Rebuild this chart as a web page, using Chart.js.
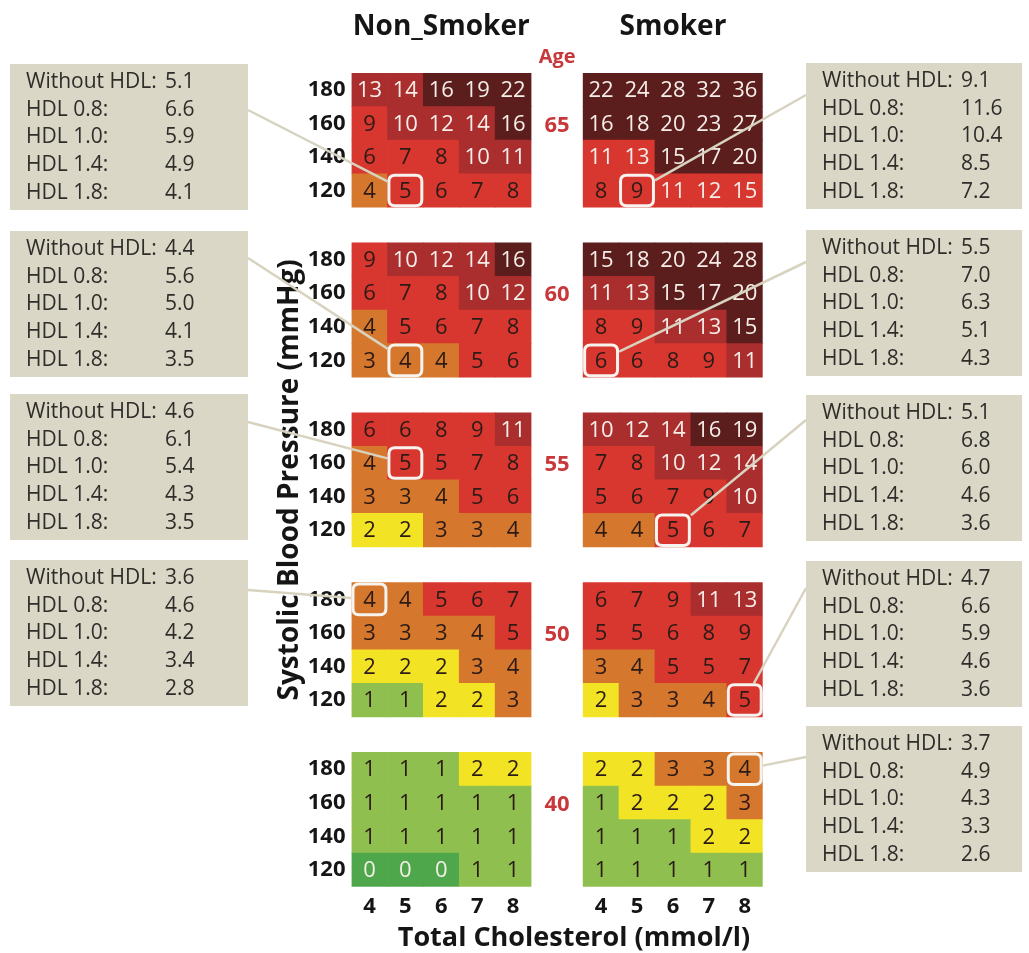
<!DOCTYPE html>
<html>
<head>
<meta charset="utf-8">
<script src="https://cdn.jsdelivr.net/npm/chart.js@4.4.1/dist/chart.umd.min.js"></script>
<style>
  html, body { margin: 0; padding: 0; background: #ffffff; }
  canvas { display: block; }
</style>
</head>
<body>
<canvas id="chart" width="1029" height="953"></canvas>
<script>
// Axis categories
const cholesterolTicks = ['4', '5', '6', '7', '8'];
const pressureTicks = ['180', '160', '140', '120'];
const ageGroups = ['65', '60', '55', '50', '40'];

// 10-year risk (%): rows = SBP 180,160,140,120; columns = total cholesterol 4..8
const nonSmoker65 = [[13, 14, 16, 19, 22], [9, 10, 12, 14, 16], [6, 7, 8, 10, 11], [4, 5, 6, 7, 8]];
const nonSmoker60 = [[9, 10, 12, 14, 16], [6, 7, 8, 10, 12], [4, 5, 6, 7, 8], [3, 4, 4, 5, 6]];
const nonSmoker55 = [[6, 6, 8, 9, 11], [4, 5, 5, 7, 8], [3, 3, 4, 5, 6], [2, 2, 3, 3, 4]];
const nonSmoker50 = [[4, 4, 5, 6, 7], [3, 3, 3, 4, 5], [2, 2, 2, 3, 4], [1, 1, 2, 2, 3]];
const nonSmoker40 = [[1, 1, 1, 2, 2], [1, 1, 1, 1, 1], [1, 1, 1, 1, 1], [0, 0, 0, 1, 1]];

const smoker65 = [[22, 24, 28, 32, 36], [16, 18, 20, 23, 27], [11, 13, 15, 17, 20], [8, 9, 11, 12, 15]];
const smoker60 = [[15, 18, 20, 24, 28], [11, 13, 15, 17, 20], [8, 9, 11, 13, 15], [6, 6, 8, 9, 11]];
const smoker55 = [[10, 12, 14, 16, 19], [7, 8, 10, 12, 14], [5, 6, 7, 9, 10], [4, 4, 5, 6, 7]];
const smoker50 = [[6, 7, 9, 11, 13], [5, 5, 6, 8, 9], [3, 4, 5, 5, 7], [2, 3, 3, 4, 5]];
const smoker40 = [[2, 2, 3, 3, 4], [1, 2, 2, 2, 3], [1, 1, 1, 2, 2], [1, 1, 1, 1, 1]];

// Cells whose shading keeps the original (unadjusted) risk band
const bandOverrides = [
  { panel: 1, age: 0, row: 2, col: 0, band: 4 }, { panel: 1, age: 0, row: 2, col: 1, band: 4 },
  { panel: 1, age: 0, row: 3, col: 2, band: 4 }, { panel: 1, age: 0, row: 3, col: 3, band: 4 },
  { panel: 1, age: 0, row: 3, col: 4, band: 4 }
];

// HDL-adjusted risk for the marked cells
const hdlLabels = ['Without HDL:', 'HDL 0.8:', 'HDL 1.0:', 'HDL 1.4:', 'HDL 1.8:'];
const hdlNonSmoker65 = [5.1, 6.6, 5.9, 4.9, 4.1];
const hdlNonSmoker60 = [4.4, 5.6, 5.0, 4.1, 3.5];
const hdlNonSmoker55 = [4.6, 6.1, 5.4, 4.3, 3.5];
const hdlNonSmoker50 = [3.6, 4.6, 4.2, 3.4, 2.8];
const hdlSmoker65 = [9.1, 11.6, 10.4, 8.5, 7.2];
const hdlSmoker60 = [5.5, 7.0, 6.3, 5.1, 4.3];
const hdlSmoker55 = [5.1, 6.8, 6.0, 4.6, 3.6];
const hdlSmoker50 = [4.7, 6.6, 5.9, 4.6, 3.6];
const hdlSmoker40 = [3.7, 4.9, 4.3, 3.3, 2.6];

// Marked cells (age group index, SBP row index, cholesterol column index)
const nonSmokerMarked = [
  { age: 0, row: 3, col: 1 }, { age: 1, row: 3, col: 1 },
  { age: 2, row: 1, col: 1 }, { age: 3, row: 0, col: 0 }
];
const smokerMarked = [
  { age: 0, row: 3, col: 1 }, { age: 1, row: 3, col: 0 }, { age: 2, row: 3, col: 2 },
  { age: 3, row: 3, col: 4 }, { age: 4, row: 0, col: 4 }
];

const nonSmokerPanel = [nonSmoker65, nonSmoker60, nonSmoker55, nonSmoker50, nonSmoker40];
const smokerPanel = [smoker65, smoker60, smoker55, smoker50, smoker40];
const nonSmokerHdl = [hdlNonSmoker65, hdlNonSmoker60, hdlNonSmoker55, hdlNonSmoker50];
const smokerHdl = [hdlSmoker65, hdlSmoker60, hdlSmoker55, hdlSmoker50, hdlSmoker40];

// Grid geometry in scale units
const SMOKER_OFFSET = 6.45;   // x-offset of the smoker panel, in columns
const BLOCK_STRIDE = 5.06;    // y-distance between age blocks, in rows
const panelOffsets = [0, SMOKER_OFFSET];
const rowPos = (age, row) => age * BLOCK_STRIDE + row;
const colPos = (panel, col) => panelOffsets[panel] + col;

const bandColors = ['#4ea84b', '#8fc04f', '#f2e424', '#d5772d', '#d8372f', '#aa2e2d', '#5c1d1d'];
function band(v) {
  if (v < 1) return 0;
  if (v < 2) return 1;
  if (v < 3) return 2;
  if (v < 5) return 3;
  if (v < 10) return 4;
  if (v < 15) return 5;
  return 6;
}
const cellText = v => ([0, 5, 6].includes(band(v)) ? '#f5eee8' : '#2b1a16');

// One floating bar per cell
const cells = [];
[nonSmokerPanel, smokerPanel].forEach((panel, p) => {
  panel.forEach((grid, a) => {
    grid.forEach((rowVals, r) => {
      rowVals.forEach((v, c) => {
        const yc = rowPos(a, r);
        const o = bandOverrides.find(b => b.panel === p && b.age === a && b.row === r && b.col === c);
        cells.push({ x: colPos(p, c), y: [yc - 0.5, yc + 0.5], v, shade: o ? o.band : band(v) });
      });
    });
  });
});

const yTickValues = [];
ageGroups.forEach((_, a) => pressureTicks.forEach((_, r) => yTickValues.push(rowPos(a, r))));
const yTickLabel = v => {
  const a = Math.floor((v + 0.5) / BLOCK_STRIDE);
  return pressureTicks[Math.round(v - a * BLOCK_STRIDE)] ?? '';
};
const xTickValues = [];
panelOffsets.forEach((_, p) => cholesterolTicks.forEach((_, c) => xTickValues.push(colPos(p, c))));
const xTickLabel = v => cholesterolTicks[Math.round(v - (v >= SMOKER_OFFSET - 0.5 ? SMOKER_OFFSET : 0))] ?? '';

const FONT = '"Open Sans", "DejaVu Sans", sans-serif';
const INK = '#151515';
const AGE_RED = '#c8383b';

// Callout boxes (pixel layout)
const calloutLeft = { x: 10, w: 238, tops: [64, 231, 394, 560] };
const calloutRight = { x: 806, w: 216, tops: [63, 230, 395, 561, 726] };
const CALLOUT_H = 146;
const leftAnchorsY = [110, 258, 422, 590];
const rightAnchorsY = [95, 262, 420, 588, 757];

function roundRect(ctx, x, y, w, h, r) {
  ctx.beginPath();
  ctx.moveTo(x + r, y);
  ctx.lineTo(x + w - r, y);
  ctx.quadraticCurveTo(x + w, y, x + w, y + r);
  ctx.lineTo(x + w, y + h - r);
  ctx.quadraticCurveTo(x + w, y + h, x + w - r, y + h);
  ctx.lineTo(x + r, y + h);
  ctx.quadraticCurveTo(x, y + h, x, y + h - r);
  ctx.lineTo(x, y + r);
  ctx.quadraticCurveTo(x, y, x + r, y);
  ctx.closePath();
}

function cellRect(chart, panel, m) {
  const xs = chart.scales.x, ys = chart.scales.y;
  const cx = colPos(panel, m.col), cy = rowPos(m.age, m.row);
  const x0 = xs.getPixelForValue(cx - 0.5), x1 = xs.getPixelForValue(cx + 0.5);
  const y0 = ys.getPixelForValue(cy - 0.5), y1 = ys.getPixelForValue(cy + 0.5);
  return { x: Math.min(x0, x1), y: Math.min(y0, y1), w: Math.abs(x1 - x0), h: Math.abs(y1 - y0) };
}

// End point of a connector: where the line from the anchor meets the cell frame
function edgePoint(ax, ay, rc) {
  const cx = rc.x + rc.w / 2, cy = rc.y + rc.h / 2;
  const dx = ax - cx, dy = ay - cy;
  const tx = dx !== 0 ? (rc.w / 2) / Math.abs(dx) : Infinity;
  const ty = dy !== 0 ? (rc.h / 2) / Math.abs(dy) : Infinity;
  const t = Math.min(tx, ty);
  return { x: cx + dx * t, y: cy + dy * t };
}

function drawCallout(ctx, layout, top, values) {
  ctx.fillStyle = '#dbd7c6';
  ctx.fillRect(layout.x, top, layout.w, CALLOUT_H);
  ctx.fillStyle = '#2e2d2a';
  ctx.font = `21px ${FONT}`;
  ctx.textAlign = 'left';
  ctx.textBaseline = 'middle';
  hdlLabels.forEach((lab, i) => {
    const y = top + 18 + i * 27.7;
    ctx.fillText(lab, layout.x + 16, y);
    ctx.fillText(values[i].toFixed(1), layout.x + 155, y);
  });
}

const decorations = {
  id: 'decorations',
  afterDatasetsDraw(chart) {
    const ctx = chart.ctx;
    const xs = chart.scales.x, ys = chart.scales.y;
    ctx.save();

    // risk numbers inside the cells
    const meta = chart.getDatasetMeta(0);
    ctx.font = `22px ${FONT}`;
    ctx.textAlign = 'center';
    ctx.textBaseline = 'middle';
    meta.data.forEach((el, i) => {
      const v = cells[i].v;
      const pt = el.getCenterPoint();
      ctx.fillStyle = cellText(v);
      ctx.fillText(String(v), pt.x, pt.y + 1);
    });

    // panel titles
    ctx.fillStyle = INK;
    ctx.font = `bold 28px ${FONT}`;
    ctx.fillText('Non_Smoker', xs.getPixelForValue(colPos(0, 2)), 27);
    ctx.fillText('Smoker', xs.getPixelForValue(colPos(1, 2)), 27);

    // age labels between the panels, level with the 160 row
    const midX = xs.getPixelForValue((colPos(0, 4) + colPos(1, 0)) / 2);
    ctx.fillStyle = AGE_RED;
    ctx.font = `bold 20px ${FONT}`;
    ctx.fillText('Age', midX, 57);
    ctx.font = `bold 22px ${FONT}`;
    ageGroups.forEach((age, a) => {
      ctx.fillText(age, midX, ys.getPixelForValue(rowPos(a, 1)) + 2);
    });

    // x-axis title
    ctx.fillStyle = INK;
    ctx.font = `bold 27px ${FONT}`;
    ctx.fillText('Total Cholesterol (mmol/l)', 574, 938);

    // connectors
    ctx.strokeStyle = '#d8d3bf';
    ctx.lineWidth = 2.5;
    const links = [];
    nonSmokerMarked.forEach((m, i) => links.push({ ax: calloutLeft.x + calloutLeft.w, ay: leftAnchorsY[i], rc: cellRect(chart, 0, m) }));
    smokerMarked.forEach((m, i) => links.push({ ax: calloutRight.x, ay: rightAnchorsY[i], rc: cellRect(chart, 1, m) }));
    links.forEach(l => {
      const e = edgePoint(l.ax, l.ay, l.rc);
      ctx.beginPath();
      ctx.moveTo(l.ax, l.ay);
      ctx.lineTo(e.x, e.y);
      ctx.stroke();
    });

    // frames around the marked cells
    ctx.strokeStyle = '#f7f3ee';
    ctx.lineWidth = 3;
    links.forEach(l => {
      roundRect(ctx, l.rc.x + 1.5, l.rc.y + 1.5, l.rc.w - 3, l.rc.h - 3, 6);
      ctx.stroke();
    });

    // callout boxes
    nonSmokerHdl.forEach((vals, i) => drawCallout(ctx, calloutLeft, calloutLeft.tops[i], vals));
    smokerHdl.forEach((vals, i) => drawCallout(ctx, calloutRight, calloutRight.tops[i], vals));

    ctx.restore();
  }
};

function build() {
  new Chart(document.getElementById('chart'), {
    type: 'bar',
    data: {
      datasets: [{
        data: cells,
        grouped: false,
        categoryPercentage: 1,
        barPercentage: 1,
        borderWidth: 0,
        backgroundColor: ctx => bandColors[ctx.raw.shade]
      }]
    },
    options: {
      responsive: false,
      animation: false,
      events: [],
      layout: { padding: { left: 271.5, right: 266.3, top: 73, bottom: 26.3 } },
      plugins: { legend: { display: false }, tooltip: { enabled: false } },
      scales: {
        x: {
          type: 'linear',
          offset: false,
          min: -0.5,
          max: SMOKER_OFFSET + 4.5,
          grid: { display: false, drawTicks: false },
          border: { display: false },
          afterBuildTicks: s => { s.ticks = xTickValues.map(v => ({ value: v })); },
          afterFit: s => { s.height = 40; },
          ticks: {
            autoSkip: false,
            maxRotation: 0,
            padding: 7,
            color: INK,
            font: { family: FONT, weight: 'bold', size: 22 },
            callback: v => xTickLabel(v)
          }
        },
        y: {
          type: 'linear',
          reverse: true,
          offset: false,
          min: -0.5,
          max: rowPos(4, 3) + 0.5,
          grid: { display: false, drawTicks: false },
          border: { display: false },
          afterBuildTicks: s => { s.ticks = yTickValues.map(v => ({ value: v })); },
          afterFit: s => { s.width = 80; },
          ticks: {
            autoSkip: false,
            padding: 6,
            color: INK,
            font: { family: FONT, weight: 'bold', size: 22 },
            callback: v => yTickLabel(v)
          },
          title: {
            display: true,
            text: 'Systolic Blood Pressure (mmHg)',
            color: INK,
            font: { family: FONT, weight: 'bold', size: 28 },
            padding: { top: 2, bottom: 0 }
          }
        }
      }
    },
    plugins: [decorations]
  });
}

const fontsReady = document.fonts
  ? Promise.all([
      document.fonts.load(`bold 21px "Open Sans"`),
      document.fonts.load(`21px "Open Sans"`)
    ]).catch(() => null)
  : Promise.resolve();
fontsReady.then(build);
</script>
</body>
</html>
